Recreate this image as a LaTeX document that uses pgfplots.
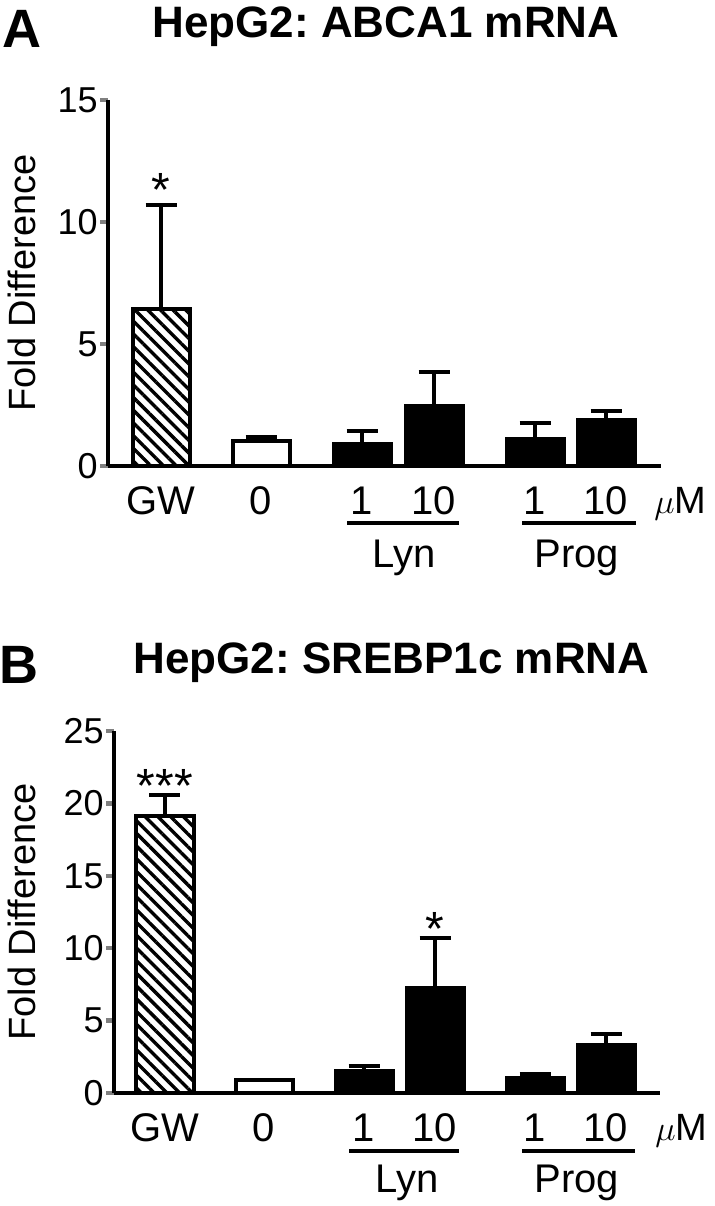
\documentclass[border=0pt]{standalone}
\usepackage{fontspec}
\setmainfont{Liberation Sans}
\usepackage{pgfplots}
\pgfplotsset{compat=1.18}
\usetikzlibrary{patterns.meta}
\frenchspacing

% 1 px of the reference = 0.5pt
\newcommand{\xsize}{\fontsize{20}{23}\selectfont}
\newcommand{\ysize}{\fontsize{18}{21}\selectfont}
\newcommand{\starsize}{\fontsize{24}{26}\selectfont}
\newcommand{\usize}{\fontsize{19}{22}\selectfont}
\pgfplotsset{
  panel/.style={
    scale only axis,
    anchor=south west,
    axis x line*=bottom,
    axis y line*=left,
    axis line style={line width=2.2pt},
    ymin=0,
    tick align=outside,
    major tick length=4pt,
    xtick style={draw=none},
    ytick style={line width=2.2pt},
    /pgf/number format/assume math mode=true,
    yticklabel style={inner xsep=1pt, font=\ysize},
    xticklabel style={anchor=base, yshift=-20pt, font=\xsize},
    ylabel={Fold Difference},
    label style={font=\fontsize{19}{22}\selectfont},
    clip=false,
  },
  barstyle/.style={ybar, bar shift=0pt, bar width=57, line width=2pt, draw=black,
    error bars/y dir=plus, error bars/y explicit,
    error bars/error bar style={line width=2pt, black},
    error bars/error mark options={rotate=90, line width=2pt, mark size=7.75pt, black}},
  hatchbar/.style={barstyle, pattern={Lines[angle=-45,distance=4.5pt,line width=1.7pt]}},
  whitebar/.style={barstyle, fill=white},
  blackbar/.style={barstyle, fill=black},
}

\begin{document}
\begin{tikzpicture}
\useasboundingbox (0,0) rectangle (357.5pt,-603pt);

% panel letters and titles
\node[anchor=base west, inner sep=0pt, font=\fontsize{27}{30}\bfseries\selectfont] at (1pt,-23.5pt) {A};
\node[anchor=base, inner sep=0pt, font=\fontsize{22}{26}\bfseries\selectfont] at (193pt,-18.5pt) {HepG2: ABCA1 mRNA};
\node[anchor=base west, inner sep=0pt, font=\fontsize{27}{30}\bfseries\selectfont] at (-0.5pt,-341.5pt) {B};
\node[anchor=base, inner sep=0pt, font=\fontsize{22}{26}\bfseries\selectfont] at (195.75pt,-336.5pt) {HepG2: SREBP1c mRNA};

% ---- panel A ----
\begin{axis}[panel,
  at={(54pt,-233pt)},
  width=276.5pt, height=183pt,
  xmin=108, xmax=661, ymax=15,
  ytick={0,5,10,15},
  xtick={161,261,362,434,535,606},
  xticklabels={GW,0,1,10,1,10},
  ylabel style={at={(axis description cs:-0.1555,0.5)}, anchor=center},
]
\addplot[hatchbar] coordinates {(161,6.45) +- (0,4.25)};
\addplot[whitebar] coordinates {(261,1.02) +- (0,0.15)};
\addplot[blackbar] coordinates {(362,0.92) +- (0,0.51) (434,2.46) +- (0,1.39) (535,1.12) +- (0,0.63) (606,1.90) +- (0,0.37)};

\node[anchor=base, font=\starsize, inner sep=0pt] at ([yshift=-1pt]axis cs:161,10.7) {*};
\node[anchor=base west, font=\usize, inner sep=0pt] at ([yshift=-23.5pt]axis cs:654,0) {$\mu$M};
\draw[line width=2pt] ([yshift=-28.5pt]axis cs:347,0) -- ([yshift=-28.5pt]axis cs:459,0);
\draw[line width=2pt] ([yshift=-28.5pt]axis cs:522,0) -- ([yshift=-28.5pt]axis cs:636,0);
\node[anchor=base, font=\xsize, inner sep=0pt] at ([yshift=-50.5pt]axis cs:404,0) {Lyn};
\node[anchor=base, font=\xsize, inner sep=0pt] at ([yshift=-50.5pt]axis cs:577,0) {Prog};
\end{axis}

% ---- panel B ----
\begin{axis}[panel,
  at={(57pt,-546.5pt)},
  width=273pt, height=181pt,
  xmin=114, xmax=660, ymax=25,
  ytick={0,5,10,15,20,25},
  xtick={165,264,364,435,535,606},
  xticklabels={GW,0,1,10,1,10},
  ylabel style={at={(axis description cs:-0.1694,0.5)}, anchor=center},
]
\addplot[hatchbar] coordinates {(165,19.13) +- (0,1.45)};
\addplot[whitebar] coordinates {(264,0.92) +- (0,0)};
\addplot[blackbar] coordinates {(364,1.50) +- (0,0.39) (435,7.25) +- (0,3.43) (535,1.04) +- (0,0.27) (606,3.29) +- (0,0.78)};

\node[anchor=base, font=\starsize, inner sep=0pt] at ([yshift=-3.5pt]axis cs:165,20.58) {***};
\node[anchor=base, font=\starsize, inner sep=0pt] at ([yshift=-3.5pt]axis cs:435,10.68) {*};
\node[anchor=base west, font=\usize, inner sep=0pt] at ([yshift=-23.5pt]axis cs:655,0) {$\mu$M};
\draw[line width=2pt] ([yshift=-29pt]axis cs:349,0) -- ([yshift=-29pt]axis cs:459,0);
\draw[line width=2pt] ([yshift=-29pt]axis cs:522,0) -- ([yshift=-29pt]axis cs:635,0);
\node[anchor=base, font=\xsize, inner sep=0pt] at ([yshift=-49.5pt]axis cs:407,0) {Lyn};
\node[anchor=base, font=\xsize, inner sep=0pt] at ([yshift=-49.5pt]axis cs:577,0) {Prog};
\end{axis}
\end{tikzpicture}
\end{document}
